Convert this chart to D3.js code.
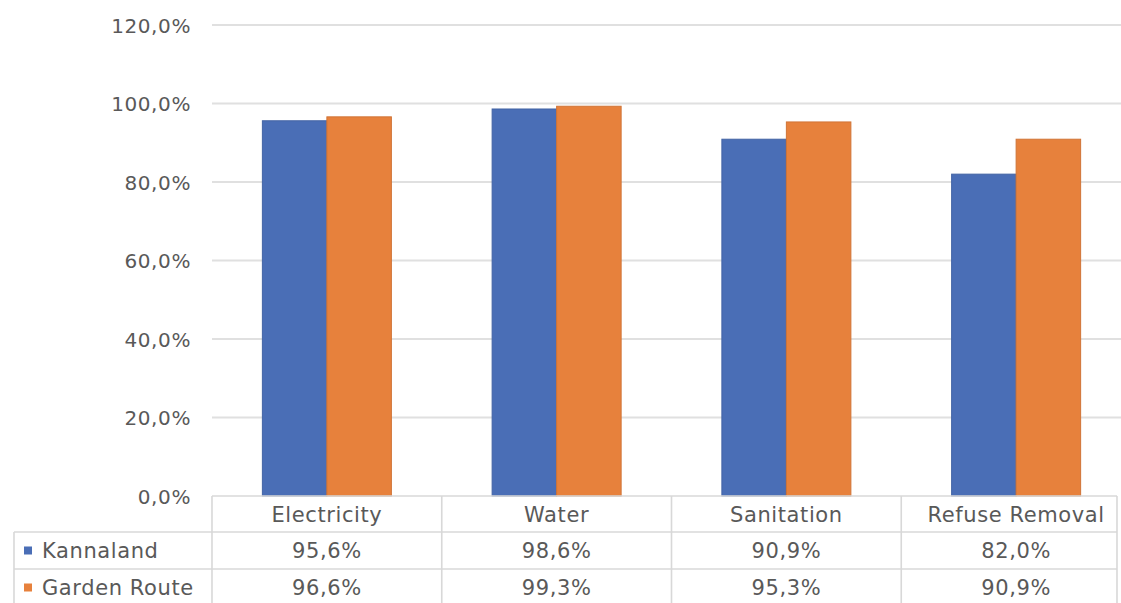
<!DOCTYPE html>
<html>
<head>
<meta charset="utf-8">
<script src="https://cdn.jsdelivr.net/npm/d3@7"></script>
<style>
  html, body { margin: 0; padding: 0; background: #fff; }
  svg { display: block; }
  text { font-family: "DejaVu Sans", sans-serif; fill: #595959; }
</style>
</head>
<body>
<svg id="chart" width="1121" height="603"></svg>
<script>
// Access to basic services: share of households served
const categories = ["Electricity", "Water", "Sanitation", "Refuse Removal"];
const seriesNames = ["Kannaland", "Garden Route"];
const kannaland = [0.956, 0.986, 0.909, 0.820];
const gardenRoute = [0.966, 0.993, 0.953, 0.909];
const yTicks = [0, 0.2, 0.4, 0.6, 0.8, 1.0, 1.2];
const colors = ["#4a6eb6", "#e7813c"];

const seriesValues = [kannaland, gardenRoute];

const W = 1121, H = 603;
const svg = d3.select("#chart");

const plotLeft = 212, plotRight = 1131, tableRight = 1117;
const yTop = 25, yZero = 496;
const rowEdges = [496, 532, 569, 606];
const tableLeft = 14;

const locale = d3.formatLocale({ decimal: ",", thousands: " ", grouping: [3], currency: ["", ""] });
const pct = locale.format(".1%");

const x0 = d3.scaleBand().domain(categories).range([plotLeft, plotRight]).padding(0);
const groupWidth = 129;
const x1 = d3.scaleBand().domain(seriesNames).range([0, groupWidth]).padding(0);
const y = d3.scaleLinear().domain([0, 1.2]).range([yZero, yTop]);

// horizontal gridlines
svg.append("g")
  .selectAll("line")
  .data(yTicks.filter(t => t > 0))
  .join("line")
  .attr("x1", plotLeft).attr("x2", W)
  .attr("y1", d => y(d)).attr("y2", d => y(d))
  .attr("stroke", "#e0e0e0").attr("stroke-width", 2);

// y axis labels
const yAxis = d3.axisLeft(y).tickValues(yTicks).tickFormat(pct).tickSize(0).tickPadding(0);
const gy = svg.append("g").attr("transform", "translate(191,0)").call(yAxis);
gy.select(".domain").remove();
gy.selectAll("text")
  .attr("font-family", "DejaVu Sans, sans-serif")
  .attr("font-size", 20)
  .attr("letter-spacing", 0.6)
  .attr("fill", "#5e5e5e")
  .attr("dy", "0.36em");

// bars
const groups = svg.append("g")
  .selectAll("g")
  .data(categories)
  .join("g")
  .attr("transform", d => `translate(${x0(d) + (x0.bandwidth() - groupWidth) / 2},0)`);

groups.selectAll("rect")
  .data((c, i) => seriesNames.map((s, j) => ({ s, j, v: seriesValues[j][i] })))
  .join("rect")
  .attr("x", d => x1(d.s))
  .attr("width", x1.bandwidth())
  .attr("y", d => y(d.v))
  .attr("height", d => y(0) - y(d.v))
  .attr("fill", d => colors[d.j])
  .attr("stroke", d => d3.color(colors[d.j]).darker(0.3))
  .attr("stroke-width", 1);

// data table lines
const table = svg.append("g").attr("stroke", "#d8d8d8").attr("stroke-width", 1.6);
// top border (0% axis) across the category columns
table.append("line")
  .attr("x1", plotLeft).attr("x2", tableRight)
  .attr("y1", rowEdges[0]).attr("y2", rowEdges[0]);
// row separators across the full table
table.selectAll("line.row")
  .data(rowEdges.slice(1, 3))
  .join("line")
  .attr("class", "row")
  .attr("x1", tableLeft).attr("x2", tableRight)
  .attr("y1", d => d).attr("y2", d => d);
// column separators
const colEdges = categories.map(c => x0(c));
table.selectAll("line.col")
  .data(colEdges)
  .join("line")
  .attr("class", "col")
  .attr("x1", d => d).attr("x2", d => d)
  .attr("y1", rowEdges[0]).attr("y2", H);
table.append("line")
  .attr("x1", tableRight).attr("x2", tableRight)
  .attr("y1", rowEdges[0]).attr("y2", H);
table.append("line")
  .attr("x1", tableLeft).attr("x2", tableLeft)
  .attr("y1", rowEdges[1]).attr("y2", H);

const rowCenter = i => (rowEdges[i] + rowEdges[i + 1]) / 2;
const textStyle = sel => sel
  .attr("font-size", 21)
  .attr("letter-spacing", 0.6)
  .attr("fill", "#585858")
  .attr("dy", "0.36em");

// header row: category names
svg.append("g").selectAll("text")
  .data(categories)
  .join("text")
  .attr("x", d => x0(d) + x0.bandwidth() / 2)
  .attr("y", rowCenter(0))
  .attr("text-anchor", "middle")
  .text(d => d)
  .call(textStyle);

// value rows
seriesNames.forEach((name, j) => {
  const cy = rowCenter(j + 1);
  const row = svg.append("g");
  row.append("rect")
    .attr("x", 24).attr("y", cy - 4)
    .attr("width", 8).attr("height", 8)
    .attr("fill", colors[j]);
  row.append("text")
    .attr("x", 42).attr("y", cy)
    .text(name)
    .call(textStyle);
  row.selectAll("text.v")
    .data(categories.map((c, i) => ({ c, v: seriesValues[j][i] })))
    .join("text")
    .attr("class", "v")
    .attr("x", d => x0(d.c) + x0.bandwidth() / 2)
    .attr("y", cy)
    .attr("text-anchor", "middle")
    .text(d => pct(d.v))
    .call(textStyle);
});
</script>
</body>
</html>
